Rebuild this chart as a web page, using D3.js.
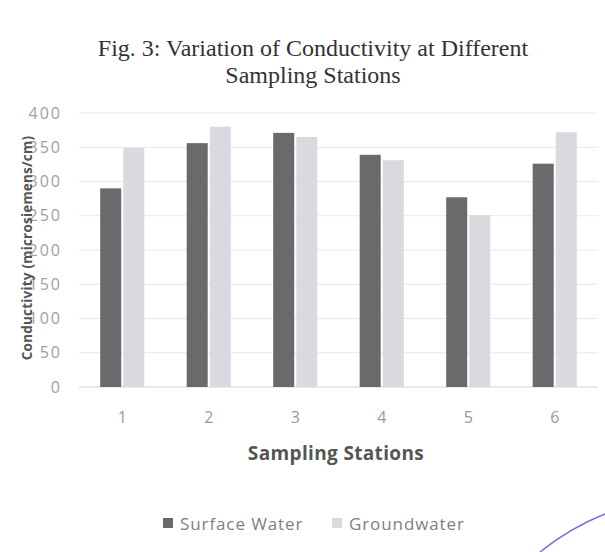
<!DOCTYPE html>
<html>
<head>
<meta charset="utf-8">
<script src="https://cdn.jsdelivr.net/npm/d3@7"></script>
<style>
  body { margin: 0; background: #fff; }
  svg { display: block; }
</style>
</head>
<body>
<svg id="chart" width="605" height="552"></svg>
<script>
const stations = ["1", "2", "3", "4", "5", "6"];
const seriesNames = ["Surface Water", "Groundwater"];
const surfaceWater = [290, 356, 371, 339, 277, 326];
const groundwater = [349, 380, 365, 331, 251, 372];
const yTicks = [0, 50, 100, 150, 200, 250, 300, 350, 400];
const titleLines = ["Fig. 3: Variation of Conductivity at Different", "Sampling Stations"];

const colors = ["#6a6a6c", "#d9dae0"];
const rows = stations.map((s, i) => ({station: s, values: [surfaceWater[i], groundwater[i]]}));

const svg = d3.select("#chart");

const x0 = d3.scaleBand().domain(stations).range([79, 598]).paddingInner(0.49).paddingOuter(0.245);
const x1 = d3.scaleBand().domain(d3.range(seriesNames.length)).range([0, x0.bandwidth()]).paddingInner(0.09);
const y = d3.scaleLinear().domain([0, 400]).range([387, 113]);

// gridlines
svg.append("g")
  .selectAll("line")
  .data(yTicks)
  .join("line")
  .attr("x1", 79)
  .attr("x2", 598)
  .attr("y1", d => y(d))
  .attr("y2", d => y(d))
  .attr("stroke", d => d === 0 ? "#d4d4d4" : "#e8e8e8")
  .attr("stroke-width", 1);

// y axis labels
const yAxis = svg.append("g")
  .attr("transform", "translate(62,0)")
  .call(d3.axisLeft(y).tickValues(yTicks).tickSize(0).tickPadding(0));
yAxis.select(".domain").remove();
yAxis.selectAll("text")
  .attr("font-family", "'Open Sans', sans-serif")
  .attr("font-size", 16)
  .attr("letter-spacing", 2)
  .attr("fill", "#a0a0a0");

// x axis labels
const xAxis = svg.append("g")
  .attr("transform", "translate(0,412)")
  .call(d3.axisBottom(x0).tickSize(0).tickPadding(0));
xAxis.select(".domain").remove();
xAxis.selectAll("text")
  .attr("font-family", "'Open Sans', sans-serif")
  .attr("font-size", 16)
  .attr("fill", "#999");

// bars
svg.append("g")
  .selectAll("g")
  .data(rows)
  .join("g")
  .attr("transform", d => `translate(${x0(d.station)},0)`)
  .selectAll("rect")
  .data(d => d.values.map((v, k) => ({k, v})))
  .join("rect")
  .attr("x", d => x1(d.k))
  .attr("width", x1.bandwidth())
  .attr("y", d => y(d.v))
  .attr("height", d => y(0) - y(d.v))
  .attr("fill", d => colors[d.k]);

// title
svg.append("text")
  .attr("x", 313)
  .attr("y", 56)
  .attr("text-anchor", "middle")
  .attr("font-family", "'Liberation Serif', 'Times New Roman', serif")
  .attr("font-size", 24)
  .attr("fill", "#333")
  .selectAll("tspan")
  .data(titleLines)
  .join("tspan")
  .attr("x", 313)
  .attr("dy", (d, i) => i ? 27 : 0)
  .text(d => d);

// axis titles
svg.append("text")
  .attr("transform", "translate(32,248) rotate(-90)")
  .attr("text-anchor", "middle")
  .attr("font-family", "'Open Sans', sans-serif")
  .attr("font-weight", "bold")
  .attr("font-size", 13.5)
  .attr("letter-spacing", 0.2)
  .attr("fill", "#555")
  .text("Conductivity (microsiemens/cm)");

svg.append("text")
  .attr("x", 336)
  .attr("y", 460)
  .attr("text-anchor", "middle")
  .attr("font-family", "'Open Sans', sans-serif")
  .attr("font-weight", "bold")
  .attr("font-size", 19)
  .attr("letter-spacing", 0.35)
  .attr("fill", "#555")
  .text("Sampling Stations");

// legend
const legendX = [163, 332];
const legend = svg.append("g")
  .selectAll("g")
  .data(seriesNames)
  .join("g")
  .attr("transform", (d, i) => `translate(${legendX[i]},518)`);
legend.append("rect")
  .attr("width", 10)
  .attr("height", 10)
  .attr("fill", (d, i) => colors[i]);
legend.append("text")
  .attr("x", 17)
  .attr("y", 12)
  .attr("font-family", "'Open Sans', sans-serif")
  .attr("font-size", 17)
  .attr("letter-spacing", 0.9)
  .attr("fill", "#808080")
  .text(d => d);

// pen stroke on the scan, bottom right
svg.append("path")
  .attr("d", "M540,552 Q570,528 605,514")
  .attr("fill", "none")
  .attr("stroke", "#6c6cf0")
  .attr("stroke-width", 1.5);
</script>
</body>
</html>
